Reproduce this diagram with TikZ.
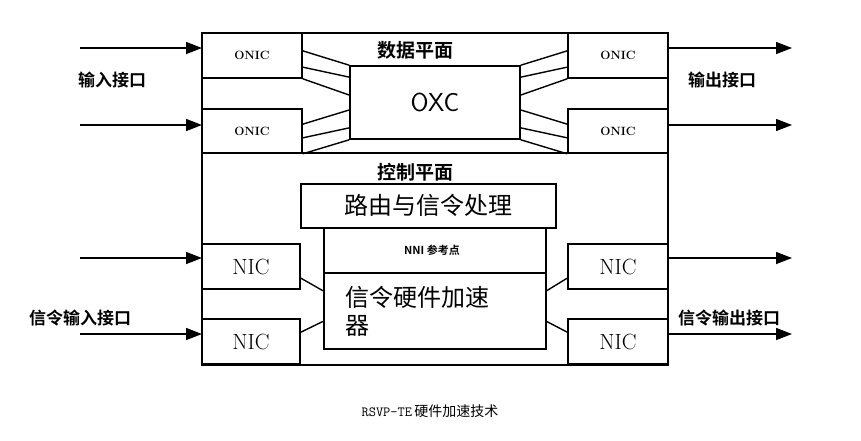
\documentclass[tikz,border=0pt]{standalone}
\usepackage{fontspec}
\newfontfamily\cjk{Noto Sans CJK SC Bold}
\newfontfamily\cjkreg{Noto Sans CJK SC}
\usetikzlibrary{calc,arrows.meta}
\tikzset{
  box/.style={draw, line width=1.6pt, rectangle, inner sep=0pt},
  port/.style={-{Triangle[length=16pt,width=12pt]}, line width=1.4pt},
  fib/.style={line width=1.4pt}
}
\newcommand{\fs}[1]{\fontsize{#1}{#1}\selectfont}
\begin{document}
\begin{tikzpicture}[x=1pt,y=-1pt]
\useasboundingbox (0,0) rectangle (861,440);
% Outer frame
\node[box, minimum width=466pt, minimum height=332pt] (frame) at (435,199) {};
\draw[line width=1.6pt] (202,153) -- (668,153);

% Data plane
\node[box, minimum width=100pt, minimum height=45pt, font=\bfseries\fs{12}] (onic1) at (252,55.5) {ONIC};
\node[box, minimum width=100pt, minimum height=44pt, font=\bfseries\fs{12}] (onic2) at (252,131) {ONIC};
\node[box, minimum width=100pt, minimum height=45pt, font=\bfseries\fs{12}] (onic3) at (618,55.5) {ONIC};
\node[box, minimum width=100pt, minimum height=44pt, font=\bfseries\fs{12}] (onic4) at (618,131) {ONIC};
\node[box, minimum width=170pt, minimum height=73pt, font=\sffamily\fs{26}] (oxc) at (435,102.5) {OXC};
\node[font=\cjk\fs{19}] (dp) at (415,50) {数据平面};

% Fibres
\foreach \a/\b/\s/\t in {onic1/oxc/0.4/0.0, onic1/oxc/0.75/0.16, onic1/oxc/1.0/0.4,
                         onic2/oxc/0.35/0.6, onic2/oxc/0.65/0.84, onic2/oxc/1.0/1.0}
  \draw[fib] ($(\a.north east)!\s!(\a.south east)$) -- ($(\b.north west)!\t!(\b.south west)$);
\foreach \a/\b/\s/\t in {onic3/oxc/0.4/0.0, onic3/oxc/0.75/0.16, onic3/oxc/1.0/0.4,
                         onic4/oxc/0.35/0.6, onic4/oxc/0.65/0.84, onic4/oxc/1.0/1.0}
  \draw[fib] ($(\a.north west)!\s!(\a.south west)$) -- ($(\b.north east)!\t!(\b.south east)$);

% Control plane
\node[font=\cjk\fs{19}] (cp) at (415,172) {控制平面};
\node[box, minimum width=255pt, minimum height=44pt, font=\cjkreg\fs{24}, anchor=north west] (route) at (300,183) {路由与信令处理};
\node[box, minimum width=222pt, minimum height=121pt, anchor=north west] (accel) at (323,227) {};
\draw[line width=1.6pt] (323,273) -- (545,273);
\node[font=\cjk\fs{11}] (nni) at (432,250) {NNI 参考点};
\node[font=\cjkreg\fs{24}, align=left, anchor=north west, inner sep=0pt] (hw) at (345,286) {信令硬件加速\\[4pt]器};

\node[box, minimum width=98pt, minimum height=45pt, font=\fs{22}] (nic1) at (251,266.5) {NIC};
\node[box, minimum width=98pt, minimum height=45pt, font=\fs{22}] (nic2) at (251,341.5) {NIC};
\node[box, minimum width=100pt, minimum height=45pt, font=\fs{22}] (nic3) at (618,266.5) {NIC};
\node[box, minimum width=100pt, minimum height=45pt, font=\fs{22}] (nic4) at (618,341.5) {NIC};
\draw[fib] ($(nic1.north east)!0.75!(nic1.south east)$) -- ($(accel.north west)!0.52!(accel.south west)$);
\draw[fib] ($(nic2.north east)!0.3!(nic2.south east)$) -- ($(accel.north west)!0.77!(accel.south west)$);
\draw[fib] ($(nic3.north west)!0.75!(nic3.south west)$) -- ($(accel.north east)!0.52!(accel.south east)$);
\draw[fib] ($(nic4.north west)!0.3!(nic4.south west)$) -- ($(accel.north east)!0.77!(accel.south east)$);

% Ports
\foreach \y in {48,125,258,334} {
  \coordinate (in\y) at (80,\y);
  \coordinate (inend\y) at (202,\y);
  \coordinate (outst\y) at (668,\y);
  \coordinate (out\y) at (792,\y);
  \draw[port] (in\y) -- (inend\y);
  \draw[port] (outst\y) -- (out\y);
}
\node[font=\cjk\fs{17}] (inlbl) at (112,80) {输入接口};
\node[font=\cjk\fs{17}] (outlbl) at (722,80) {输出接口};
\node[font=\cjk\fs{17}] (sinlbl) at (80,318) {信令输入接口};
\node[font=\cjk\fs{17}] (soutlbl) at (729,318) {信令输出接口};

% Caption
\node[font=\fs{14}] (cap) at (430,411) {\texttt{RSVP-TE}\,{\cjkreg 硬件加速技术}};
\end{tikzpicture}
\end{document}
